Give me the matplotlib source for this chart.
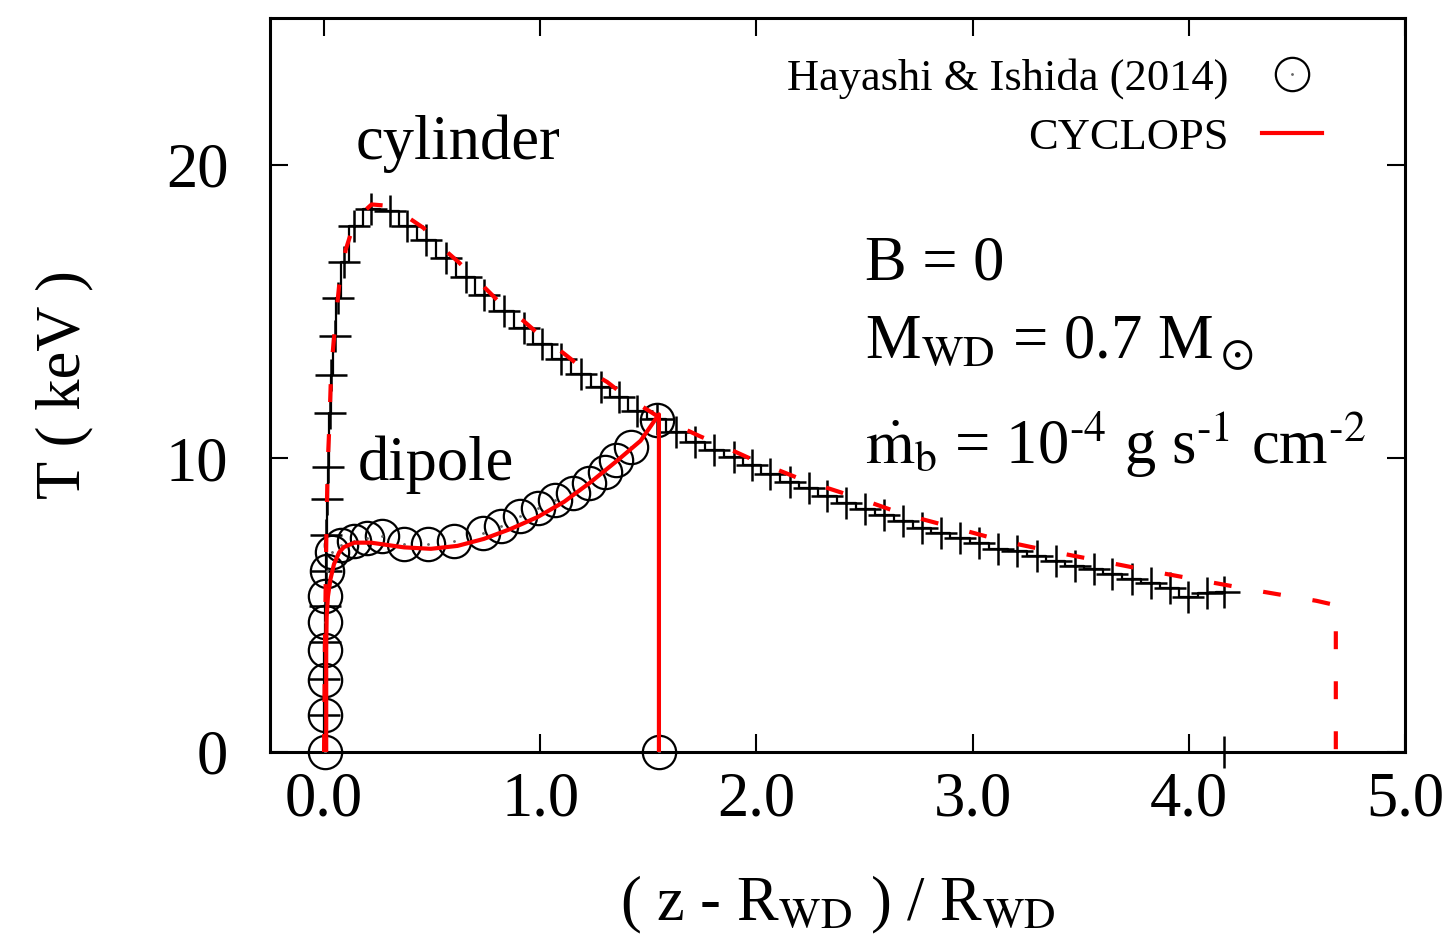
import matplotlib
matplotlib.use('Agg')
import matplotlib.pyplot as plt
from matplotlib.lines import Line2D
from matplotlib.legend_handler import HandlerTuple

plt.rcParams['font.family'] = 'serif'
plt.rcParams['font.serif'] = ['Liberation Serif', 'DejaVu Serif']
plt.rcParams['mathtext.fontset'] = 'stix'

# Hayashi & Ishida (2014), cylinder (+)
cyl_x = [0.0, 0.0, 0.0, 0.004, 0.006, 0.008, 0.010, 0.014, 0.018, 0.028, 0.034,
         0.049, 0.065, 0.092, 0.140, 0.217, 0.305, 0.386, 0.471, 0.564, 0.656,
         0.741, 0.833, 0.925, 1.010, 1.095, 1.187, 1.279, 1.364, 1.449, 1.541,
         1.626, 1.718, 1.805, 1.895, 1.980, 2.065, 2.154, 2.242, 2.327, 2.416,
         2.503, 2.591, 2.680, 2.765, 2.853, 2.942, 3.031, 3.119, 3.206, 3.296,
         3.384, 3.473, 3.561, 3.647, 3.735, 3.823, 3.912, 3.997, 4.086, 4.161]
cyl_y = [0.0, 1.25, 2.5, 3.75, 4.97, 6.16, 7.38, 8.63, 9.70, 11.55, 12.85,
         14.18, 15.45, 16.7, 17.93, 18.5, 18.43, 17.93, 17.44, 16.83, 16.19,
         15.58, 15.01, 14.44, 13.88, 13.39, 12.86, 12.43, 12.09, 11.63, 11.35,
         10.89, 10.55, 10.27, 10.04, 9.76, 9.48, 9.19, 9.00, 8.72, 8.49,
         8.27, 8.06, 7.87, 7.64, 7.47, 7.30, 7.13, 6.93, 6.83, 6.68,
         6.51, 6.34, 6.22, 6.05, 5.88, 5.75, 5.57, 5.28, 5.40, 5.44]
cyl_end_x = [4.161]
cyl_end_y = [0.0]

# Hayashi & Ishida (2014), dipole (circles)
dip_x = [0.005, 0.005, 0.005, 0.005, 0.005, 0.005, 0.015, 0.035, 0.079, 0.14,
         0.20, 0.27, 0.37, 0.48, 0.60, 0.735, 0.82, 0.905, 0.99, 1.07, 1.15,
         1.225, 1.30, 1.35, 1.42, 1.54, 1.549]
dip_y = [0.0, 1.25, 2.45, 3.47, 4.42, 5.32, 6.15, 6.8, 7.05, 7.2,
         7.3, 7.35, 7.1, 7.1, 7.18, 7.45, 7.7, 8.03, 8.3, 8.58, 8.83,
         9.17, 9.55, 9.95, 10.4, 11.3, 0.0]

# CYCLOPS cylinder (dashed)
cyc_cyl_x = [0.0, 0.004, 0.008, 0.012, 0.017, 0.025, 0.032, 0.04, 0.055, 0.07,
             0.086, 0.10, 0.13, 0.16, 0.22, 0.30, 0.37, 0.46, 0.55, 0.62, 0.725,
             0.80, 0.92, 0.99, 1.11, 1.18, 1.31, 1.38, 1.55, 1.74, 1.82, 2.0,
             2.22, 2.45, 2.68, 2.92, 3.15, 3.40, 3.63, 3.87, 4.11, 4.35, 4.59,
             4.68, 4.68]
cyc_cyl_y = [0.0, 3.5, 6.0, 8.0, 9.8, 11.2, 12.8, 13.6, 14.8, 15.9,
             16.5, 17.1, 17.8, 18.25, 18.65, 18.6, 18.3, 17.85, 17.15, 16.7, 15.95,
             15.4, 14.7, 14.25, 13.57, 13.16, 12.6, 12.2, 11.4, 10.75, 10.5, 9.9,
             9.25, 8.7, 8.1, 7.63, 7.17, 6.78, 6.45, 6.1, 5.77, 5.45, 5.15,
             5.0, 0.0]

# CYCLOPS dipole (solid)
cyc_dip_x = [0.01, 0.01, 0.012, 0.018, 0.03, 0.046, 0.07, 0.092, 0.14, 0.217,
             0.37, 0.494, 0.617, 0.74, 0.864, 0.987, 1.11, 1.233, 1.357, 1.464,
             1.549, 1.549]
cyc_dip_y = [0.0, 3.5, 4.6, 5.3, 5.9, 6.4, 6.8, 6.98, 7.13, 7.13,
             6.97, 6.92, 7.02, 7.26, 7.6, 8.0, 8.52, 9.19, 9.93, 10.6,
             11.5, 0.0]

xticks = [0, 1, 2, 3, 4, 5]
xticklabels = ['0.0', '1.0', '2.0', '3.0', '4.0', '5.0']
yticks = [0, 10, 20]

fig = plt.figure(figsize=(14.5, 9.52), dpi=100)
ax = fig.add_axes([270/1450, 1-752/952, 1135/1450, 734/952])

# Hayashi cylinder: steps + plus markers
ax.step(cyl_x, cyl_y, where='mid', color='black', lw=1.6, zorder=2)
ax.plot(cyl_x, cyl_y, ls='none', marker='+', ms=23, mew=1.8, color='black', zorder=2)
ax.plot(cyl_end_x, cyl_end_y, ls='none', marker='+', ms=23, mew=1.8, color='black',
        zorder=2, clip_on=False)

# Hayashi dipole: circles with centre dot
ax.plot(dip_x, dip_y, ls='none', marker='o', ms=24, mfc='none', mec='black', mew=1.6,
        zorder=3, clip_on=False)
ax.plot(dip_x, dip_y, ls='none', marker='.', ms=2, color='0.4', zorder=3)

# CYCLOPS
ax.plot(cyc_cyl_x, cyc_cyl_y, color='red', lw=3, dashes=(4.3, 7.7), zorder=4)
ax.plot(cyc_dip_x, cyc_dip_y, color='red', lw=3, zorder=4)

ax.set_xlim(-0.25, 5.0)
ax.set_ylim(0, 25)
ax.set_xticks(xticks)
ax.set_xticklabels(xticklabels)
ax.set_yticks(yticks)
ax.tick_params(axis='both', which='major', direction='in', length=13, width=1.5,
               top=True, right=True, labelsize=45)
ax.tick_params(axis='x', pad=14)
ax.tick_params(axis='y', pad=30)
for sp in ax.spines.values():
    sp.set_linewidth(2.2)

ax.set_ylabel('T ( keV )', fontsize=45, va='center')
ax.yaxis.set_label_coords(-(270-64)/1135, 0.5)
ax.set_xlabel(r'( z - R$_\mathrm{WD}$ ) / R$_\mathrm{WD}$', fontsize=45, va='center')
ax.xaxis.set_label_coords(0.5, -(905-752)/734)

# annotations
ax.text(0.148, 20.2, 'cylinder', fontsize=45, va='baseline')
ax.text(0.157, 9.25, 'dipole', fontsize=45, va='baseline')
ax.text(2.50, 16.1, 'B = 0', fontsize=45, va='baseline')
ax.text(2.50, 13.4, r'M$_\mathrm{WD}$ = 0.7 M$_\odot$', fontsize=45, va='baseline')
ax.text(2.50, 9.8,
        r'$\dot{\mathrm{m}}_\mathrm{b}$ = 10$^{\text{-4}}$ g s$^{\text{-1}}$ cm$^{\text{-2}}$',
        fontsize=45, va='baseline')

# legend
h_circ = Line2D([], [], ls='none', marker='o', ms=24, mfc='none', mec='black', mew=1.6)
h_dot = Line2D([], [], ls='none', marker='.', ms=2, color='0.4')
h_red = Line2D([], [], color='red', lw=3)
ax.legend([(h_circ, h_dot), h_red], ['Hayashi & Ishida (2014)', 'CYCLOPS'],
          handler_map={tuple: HandlerTuple(ndivide=1)},
          loc='upper right', bbox_to_anchor=(1322/1450, 1-58/952),
          bbox_transform=fig.transFigure, frameon=False, markerfirst=False,
          fontsize=32, handlelength=1.36, handletextpad=0.75, labelspacing=0.42,
          borderpad=0, borderaxespad=0)

fig.savefig('out.png', dpi=100)
